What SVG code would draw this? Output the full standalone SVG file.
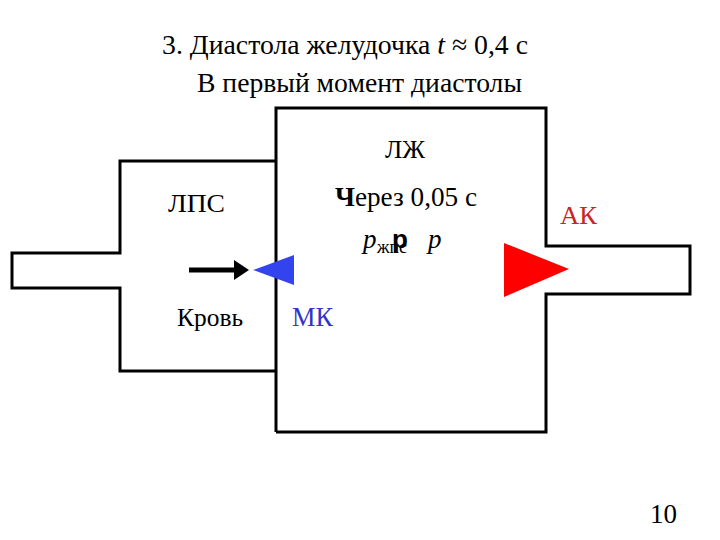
<svg xmlns="http://www.w3.org/2000/svg" width="720" height="540" viewBox="0 0 720 540">
<style>
.w{fill:none;stroke:#000;stroke-width:3}
.s{font-family:"Liberation Serif",serif;fill:#000}
.a{font-family:"Liberation Sans",sans-serif;fill:#000}
</style>
<defs>
<marker id="ah" markerWidth="4" markerHeight="4" refX="0" refY="2" orient="auto" markerUnits="strokeWidth"><path d="M0,0 L3,2 L0,4 z" fill="#000"/></marker>
</defs>
<rect width="720" height="540" fill="#fff"/>
<g id="title">
<text class="s" x="162" y="54" font-size="28" textLength="366" lengthAdjust="spacingAndGlyphs">3. Диастола желудочка <tspan font-style="italic">t</tspan> ≈ 0,4 с</text>
<text class="s" x="197" y="92" font-size="27" textLength="325" lengthAdjust="spacingAndGlyphs">В первый момент диастолы</text>
</g>
<g id="lps">
<path class="w" d="M276,161 H120 V253 H12 V288 H120 V371 H276"/>
<text class="s" x="168" y="212" font-size="25" textLength="57" lengthAdjust="spacingAndGlyphs">ЛПС</text>
<text class="s" x="177" y="326" font-size="25" textLength="66" lengthAdjust="spacingAndGlyphs">Кровь</text>
</g>
<g id="lv">
<path class="w" d="M276,432 V108 H546 V246 H690 V294 H546 V432 H276"/>
<text class="s" x="385" y="158" font-size="25" textLength="40" lengthAdjust="spacingAndGlyphs">ЛЖ</text>
<text class="s" x="335" y="206" font-size="27" textLength="142" lengthAdjust="spacingAndGlyphs"><tspan font-weight="bold">Ч</tspan>ерез 0,05 с</text>
<text class="s" x="363" y="248" font-size="27" font-style="italic">p</text>
<text class="s" x="377" y="253" font-size="18">жпс</text>
<text class="a" x="392" y="248" font-size="26" font-weight="bold">р</text>
<text class="s" x="428" y="248" font-size="27" font-style="italic">p</text>
</g>
<g id="mk">
<polygon points="253,270 294,255 294,285" fill="#3344ee"/>
<text x="292" y="326" font-family="Liberation Serif,serif" font-size="27" fill="#3333cc" textLength="41" lengthAdjust="spacingAndGlyphs">МК</text>
</g>
<g id="ak">
<polygon points="504,243 569,269 504,297" fill="#ff0000"/>
<text x="560" y="224" font-family="Liberation Serif,serif" font-size="25" fill="#cc2222" textLength="37" lengthAdjust="spacingAndGlyphs">АК</text>
</g>
<g id="connectors">
<line x1="189" y1="270" x2="234" y2="270" stroke="#000" stroke-width="5" marker-end="url(#ah)"/>
</g>
<g id="page">
<text class="s" x="650" y="523" font-size="28" textLength="27" lengthAdjust="spacingAndGlyphs">10</text>
</g>
</svg>
